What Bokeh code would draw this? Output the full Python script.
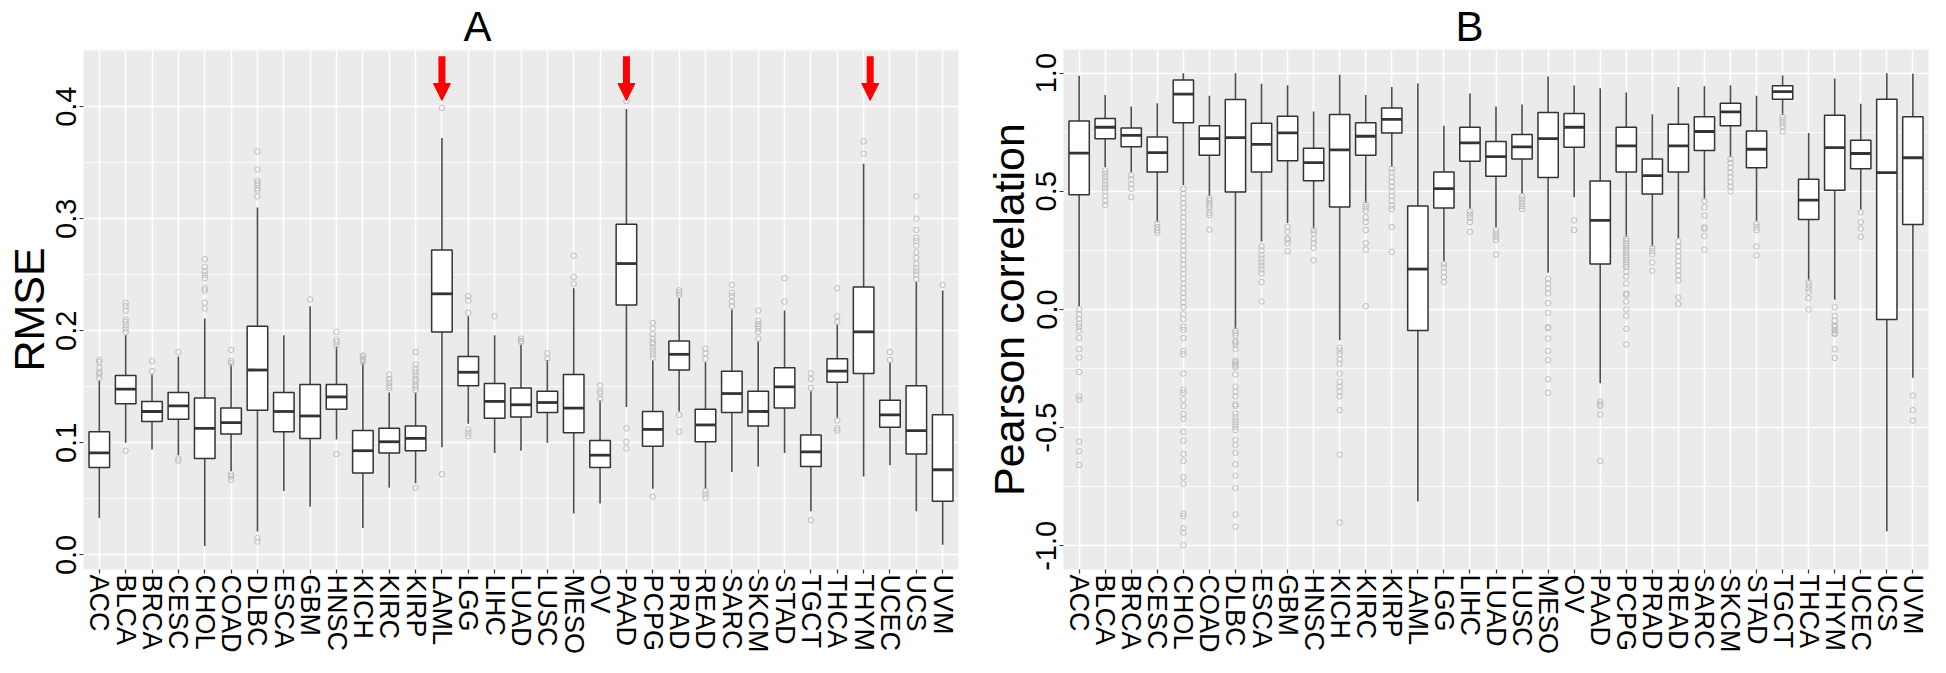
import numpy as np
from bokeh.plotting import figure
from bokeh.models import Range1d, FixedTicker, Arrow, NormalHead, NumeralTickFormatter
from bokeh.layouts import row
from bokeh.embed import file_html
from bokeh.resources import INLINE

# ---------------- data ----------------
cancer_types = ["ACC", "BLCA", "BRCA", "CESC", "CHOL", "COAD", "DLBC", "ESCA", "GBM", "HNSC",
                "KICH", "KIRC", "KIRP", "LAML", "LGG", "LIHC", "LUAD", "LUSC", "MESO", "OV",
                "PAAD", "PCPG", "PRAD", "READ", "SARC", "SKCM", "STAD", "TGCT", "THCA", "THYM",
                "UCEC", "UCS", "UVM"]

# Panel A: RMSE box statistics
rmse_whisker_low = [0.033, 0.100, 0.094, 0.089, 0.008, 0.075, 0.021, 0.057, 0.043, 0.103, 0.024,
                    0.060, 0.064, 0.096, 0.117, 0.091, 0.093, 0.100, 0.037, 0.046, 0.132, 0.059,
                    0.128, 0.059, 0.074, 0.079, 0.091, 0.039, 0.122, 0.070, 0.080, 0.039, 0.009]
rmse_q1 = [0.078, 0.135, 0.119, 0.121, 0.086, 0.108, 0.129, 0.110, 0.104, 0.130, 0.073,
           0.091, 0.093, 0.199, 0.151, 0.122, 0.123, 0.127, 0.109, 0.078, 0.223, 0.097,
           0.165, 0.101, 0.127, 0.115, 0.131, 0.079, 0.154, 0.162, 0.114, 0.090, 0.048]
rmse_median = [0.091, 0.148, 0.128, 0.133, 0.113, 0.118, 0.165, 0.128, 0.124, 0.141, 0.093,
               0.101, 0.104, 0.233, 0.163, 0.137, 0.134, 0.136, 0.131, 0.089, 0.260, 0.112,
               0.179, 0.116, 0.144, 0.128, 0.150, 0.092, 0.164, 0.199, 0.125, 0.111, 0.076]
rmse_q3 = [0.110, 0.160, 0.137, 0.145, 0.140, 0.131, 0.204, 0.145, 0.152, 0.152, 0.111,
           0.113, 0.115, 0.272, 0.177, 0.153, 0.149, 0.146, 0.161, 0.102, 0.295, 0.128,
           0.191, 0.130, 0.164, 0.146, 0.167, 0.107, 0.175, 0.239, 0.138, 0.151, 0.125]
rmse_whisker_high = [0.156, 0.196, 0.161, 0.177, 0.211, 0.170, 0.310, 0.196, 0.222, 0.186, 0.171,
                     0.145, 0.145, 0.372, 0.213, 0.196, 0.188, 0.174, 0.238, 0.138, 0.398, 0.174,
                     0.229, 0.172, 0.219, 0.191, 0.218, 0.146, 0.206, 0.349, 0.172, 0.244, 0.236]
rmse_outliers = {
    "ACC": [0.158, 0.161, 0.163, 0.167, 0.172, 0.174],
    "BLCA": [0.093, 0.199, 0.202, 0.205, 0.208, 0.210, 0.218, 0.222, 0.225],
    "BRCA": [0.164, 0.173],
    "CESC": [0.084, 0.086, 0.181],
    "CHOL": [0.220, 0.225, 0.236, 0.238, 0.247, 0.250, 0.253, 0.257, 0.264],
    "COAD": [0.067, 0.070, 0.072, 0.171, 0.173, 0.183],
    "DLBC": [0.012, 0.015, 0.320, 0.325, 0.327, 0.330, 0.332, 0.334, 0.344, 0.360],
    "GBM": [0.228],
    "HNSC": [0.090, 0.187, 0.190, 0.192, 0.199],
    "KICH": [0.172, 0.174, 0.175, 0.177, 0.178],
    "KIRC": [0.149, 0.151, 0.154, 0.157, 0.161],
    "KIRP": [0.060, 0.147, 0.150, 0.152, 0.155, 0.157, 0.160, 0.163, 0.166, 0.170, 0.181],
    "LAML": [0.072, 0.399],
    "LGG": [0.106, 0.109, 0.112, 0.216, 0.227, 0.231],
    "LIHC": [0.213],
    "LUAD": [0.190, 0.191, 0.193],
    "LUSC": [0.175, 0.180],
    "MESO": [0.242, 0.248, 0.267],
    "OV": [0.139, 0.144, 0.146, 0.151],
    "PAAD": [0.095, 0.101, 0.113, 0.405],
    "PCPG": [0.052, 0.176, 0.179, 0.182, 0.185, 0.188, 0.190, 0.193, 0.197, 0.202, 0.207],
    "PRAD": [0.110, 0.125, 0.232, 0.234, 0.236],
    "READ": [0.051, 0.054, 0.057, 0.175, 0.180, 0.184],
    "SARC": [0.222, 0.226, 0.231, 0.234, 0.241],
    "SKCM": [0.193, 0.199, 0.202, 0.204, 0.206, 0.209, 0.218],
    "STAD": [0.226, 0.247],
    "TGCT": [0.031, 0.149, 0.157, 0.162],
    "THCA": [0.111, 0.113, 0.120, 0.208, 0.213, 0.238],
    "THYM": [0.358, 0.369],
    "UCEC": [0.174, 0.181],
    "UCS": [0.246, 0.250, 0.253, 0.256, 0.260, 0.265, 0.270, 0.276, 0.280, 0.283, 0.290, 0.300, 0.320],
    "UVM": [0.241],
}
highlighted = ["LAML", "PAAD", "THYM"]

# Panel B: Pearson correlation box statistics
pcc_whisker_low = [0.014, 0.603, 0.579, 0.370, 0.527, 0.479, -0.082, 0.288, 0.366, 0.342, -0.130,
                   0.452, 0.603, -0.812, 0.205, 0.425, 0.349, 0.489, 0.155, 0.475, -0.312, 0.308,
                   0.267, 0.301, 0.466, 0.644, 0.373, 0.822, 0.123, 0.041, 0.421, -0.938, -0.289]
pcc_q1 = [0.486, 0.722, 0.689, 0.582, 0.790, 0.653, 0.497, 0.582, 0.629, 0.545, 0.434,
          0.653, 0.747, -0.089, 0.429, 0.627, 0.564, 0.637, 0.558, 0.686, 0.192, 0.582,
          0.489, 0.582, 0.673, 0.777, 0.600, 0.890, 0.381, 0.505, 0.596, -0.042, 0.360]
pcc_median = [0.662, 0.771, 0.737, 0.664, 0.911, 0.723, 0.727, 0.699, 0.747, 0.621, 0.675,
              0.733, 0.804, 0.171, 0.511, 0.705, 0.647, 0.688, 0.723, 0.771, 0.377, 0.692,
              0.566, 0.692, 0.753, 0.836, 0.678, 0.922, 0.463, 0.685, 0.660, 0.579, 0.642]
pcc_q3 = [0.797, 0.808, 0.768, 0.730, 0.971, 0.777, 0.888, 0.788, 0.818, 0.682, 0.825,
          0.790, 0.852, 0.438, 0.582, 0.771, 0.711, 0.740, 0.833, 0.829, 0.544, 0.771,
          0.637, 0.784, 0.815, 0.873, 0.755, 0.947, 0.551, 0.822, 0.716, 0.890, 0.815]
pcc_whisker_high = [0.989, 0.908, 0.859, 0.873, 1.000, 0.904, 1.000, 0.955, 0.949, 0.838, 0.993,
                    0.908, 0.941, 0.956, 0.777, 0.914, 0.859, 0.867, 0.986, 0.948, 0.936, 0.918,
                    0.826, 0.941, 0.945, 0.949, 0.904, 0.990, 0.747, 0.977, 0.870, 1.000, 0.997]
pcc_outliers = {
    "ACC": [0.0, -0.02, -0.04, -0.06, -0.073, -0.09, -0.12, -0.168, -0.203, -0.264, -0.367,
            -0.381, -0.559, -0.6, -0.658],
    "BLCA": [0.589, 0.575, 0.56, 0.545, 0.53, 0.515, 0.5, 0.48, 0.46, 0.442],
    "BRCA": [0.568, 0.551, 0.53, 0.511, 0.475],
    "CESC": [0.363, 0.349, 0.336, 0.325],
    "CHOL": [0.51, 0.49, 0.47, 0.45, 0.43, 0.41, 0.39, 0.37, 0.35, 0.33, 0.31, 0.29, 0.27, 0.25,
             0.23, 0.21, 0.19, 0.17, 0.15, 0.13, 0.11, 0.09, 0.07, 0.05, 0.03, 0.01, -0.02, -0.04,
             -0.073, -0.086, -0.121, -0.175, -0.189, -0.271, -0.34, -0.353, -0.381, -0.408,
             -0.442, -0.463, -0.518, -0.555, -0.611, -0.641, -0.71, -0.737, -0.864, -0.874,
             -0.925, -0.944, -0.997],
    "COAD": [0.47, 0.46, 0.45, 0.44, 0.43, 0.41, 0.40, 0.338],
    "DLBC": [-0.09, -0.1, -0.11, -0.134, -0.138, -0.148, -0.168, -0.216, -0.223, -0.23, -0.237,
             -0.244, -0.275, -0.326, -0.347, -0.367, -0.401, -0.408, -0.44, -0.456, -0.47,
             -0.484, -0.497, -0.51, -0.552, -0.573, -0.607, -0.655, -0.703, -0.755, -0.867,
             -0.919],
    "ESCA": [0.267, 0.25, 0.23, 0.215, 0.2, 0.185, 0.17, 0.153, 0.116, 0.034],
    "GBM": [0.349, 0.329, 0.301, 0.295, 0.281, 0.247],
    "HNSC": [0.336, 0.322, 0.297, 0.281, 0.26, 0.208],
    "KICH": [-0.162, -0.175, -0.189, -0.21, -0.23, -0.271, -0.306, -0.326, -0.347, -0.367,
             -0.426, -0.614, -0.901],
    "KIRC": [0.445, 0.432, 0.418, 0.39, 0.37, 0.336, 0.281, 0.253, 0.014],
    "KIRP": [0.596, 0.58, 0.56, 0.54, 0.52, 0.5, 0.48, 0.46, 0.44, 0.425, 0.349, 0.244],
    "LGG": [0.192, 0.178, 0.158, 0.137, 0.116],
    "LIHC": [0.415, 0.401, 0.388, 0.37, 0.329],
    "LUAD": [0.336, 0.322, 0.308, 0.295, 0.233],
    "LUSC": [0.479, 0.466, 0.452, 0.438, 0.425],
    "MESO": [0.13, 0.11, 0.089, 0.068, 0.027, -0.014, -0.075, -0.079, -0.123, -0.175, -0.214,
             -0.295, -0.353],
    "OV": [0.377, 0.336],
    "PAAD": [-0.39, -0.401, -0.408, -0.445, -0.641],
    "PCPG": [0.30, 0.29, 0.28, 0.27, 0.26, 0.25, 0.24, 0.23, 0.22, 0.21, 0.20, 0.19, 0.18, 0.16,
             0.14, 0.11, 0.068, 0.062, 0.034, 0.0, -0.027, -0.082, -0.148],
    "PRAD": [0.26, 0.247, 0.233, 0.199, 0.164],
    "READ": [0.288, 0.267, 0.247, 0.226, 0.205, 0.185, 0.164, 0.144, 0.123, 0.051, 0.023],
    "SARC": [0.459, 0.432, 0.397, 0.349, 0.342, 0.311, 0.253],
    "SKCM": [0.637, 0.62, 0.6, 0.58, 0.56, 0.54, 0.52, 0.5],
    "STAD": [0.363, 0.349, 0.336, 0.267, 0.229],
    "TGCT": [0.815, 0.801, 0.788, 0.774, 0.753],
    "THCA": [0.116, 0.103, 0.089, 0.075, 0.048, 0.0],
    "THYM": [0.01, -0.027, -0.048, -0.068, -0.073, -0.086, -0.089, -0.1, -0.103, -0.168, -0.205],
    "UCEC": [0.411, 0.37, 0.342, 0.308],
    "UVM": [-0.364, -0.426, -0.47],
}

rmse_ticks = [0.0, 0.1, 0.2, 0.3, 0.4]
rmse_minor = [0.05, 0.15, 0.25, 0.35, 0.45]
pcc_ticks = [-1.0, -0.5, 0.0, 0.5, 1.0]
pcc_minor = [-0.75, -0.25, 0.25, 0.75]

# ---------------- styling ----------------
FONT = "Liberation Sans"
BOX_W = 0.78
DARK = "#333333"


def build_panel(lo, q1, med, q3, hi, outliers, y_start, y_end, majors, minors, ylabel, title,
                title_offset, width, border_left, border_right):
    n = len(cancer_types)
    xs = np.arange(1, n + 1)
    p = figure(width=width, height=657, x_range=Range1d(0.4, n + 0.6),
               y_range=Range1d(y_start, y_end), output_backend="svg",
               toolbar_location=None, min_border_left=border_left,
               min_border_right=border_right, min_border_top=47,
               min_border_bottom=80)
    p.background_fill_color = "#EBEBEB"
    p.border_fill_color = "white"
    p.outline_line_color = None

    p.title.text = title
    p.title.align = "left"
    p.title.offset = title_offset
    p.title.standoff = 0
    p.title.text_font = FONT
    p.title.text_font_size = "42px"
    p.title.text_font_style = "normal"
    p.title.text_color = "black"

    p.xaxis.ticker = FixedTicker(ticks=[int(x) for x in xs])
    p.xaxis.major_label_overrides = {int(x): c for x, c in zip(xs, cancer_types)}
    p.xaxis.major_label_orientation = "vertical"
    p.xaxis.major_label_text_font_size = "27px"
    p.xaxis.major_label_standoff = 1

    p.yaxis.ticker = FixedTicker(ticks=majors, minor_ticks=minors)
    p.yaxis.formatter = NumeralTickFormatter(format="0.0")
    p.yaxis.major_label_orientation = "vertical"
    p.yaxis.major_label_text_font_size = "29px"
    p.yaxis.major_label_standoff = 3
    p.yaxis.axis_label = ylabel
    p.yaxis.axis_label_text_font_size = "43px"
    p.yaxis.axis_label_text_font_style = "normal"
    p.yaxis.axis_label_text_font = FONT
    p.yaxis.axis_label_text_color = "black"
    p.yaxis.axis_label_standoff = 1

    for ax in (p.xaxis[0], p.yaxis[0]):
        ax.axis_line_color = None
        ax.major_tick_line_color = DARK
        ax.major_tick_line_width = 1.2
        ax.major_tick_out = 4
        ax.major_tick_in = 0
        ax.minor_tick_line_color = None
        ax.major_label_text_font = FONT
        ax.major_label_text_color = "black"

    p.xgrid.grid_line_color = "white"
    p.xgrid.grid_line_width = 1.6
    p.ygrid.grid_line_color = "white"
    p.ygrid.grid_line_width = 1.6
    p.ygrid.minor_grid_line_color = "white"
    p.ygrid.minor_grid_line_width = 0.8

    # whiskers
    p.segment(x0=xs, y0=q3, x1=xs, y1=hi, line_color="#4D4D4D", line_width=1.6)
    p.segment(x0=xs, y0=lo, x1=xs, y1=q1, line_color="#4D4D4D", line_width=1.6)
    # boxes
    p.vbar(x=xs, width=BOX_W, bottom=q1, top=q3, fill_color="white",
           line_color=DARK, line_width=1.5)
    p.segment(x0=xs - BOX_W / 2, x1=xs + BOX_W / 2, y0=med, y1=med,
              line_color=DARK, line_width=2.8)
    # outliers
    ox = [i + 1 for i, c in enumerate(cancer_types) for _ in outliers.get(c, [])]
    oy = [v for c in cancer_types for v in outliers.get(c, [])]
    p.scatter(x=ox, y=oy, marker="circle", size=5.5, fill_color=None,
              line_color="#BDBDBD", line_width=1)
    return p


pA = build_panel(rmse_whisker_low, rmse_q1, rmse_median, rmse_q3, rmse_whisker_high,
                 rmse_outliers, -0.013, 0.451, rmse_ticks, rmse_minor, "RMSE", "A", 380,
                 width=975, border_left=83, border_right=17)
pB = build_panel(pcc_whisker_low, pcc_q1, pcc_median, pcc_q3, pcc_whisker_high,
                 pcc_outliers, -1.1, 1.1, pcc_ticks, pcc_minor, "Pearson correlation", "B", 392,
                 width=955, border_left=88, border_right=2)

# red arrows pointing at the highlighted cancer types in panel A
arrow_shift = {"THYM": 0.25}
for name in highlighted:
    xa = cancer_types.index(name) + 1 + arrow_shift.get(name, 0.0)
    pA.add_layout(Arrow(x_start=xa, y_start=0.445, x_end=xa, y_end=0.4055,
                        line_color="red", line_width=7,
                        end=NormalHead(size=17, fill_color="red", line_color="red",
                                       line_width=1)))

layout = row(pA, pB)
open("out.html", "w").write(file_html(layout, INLINE))
